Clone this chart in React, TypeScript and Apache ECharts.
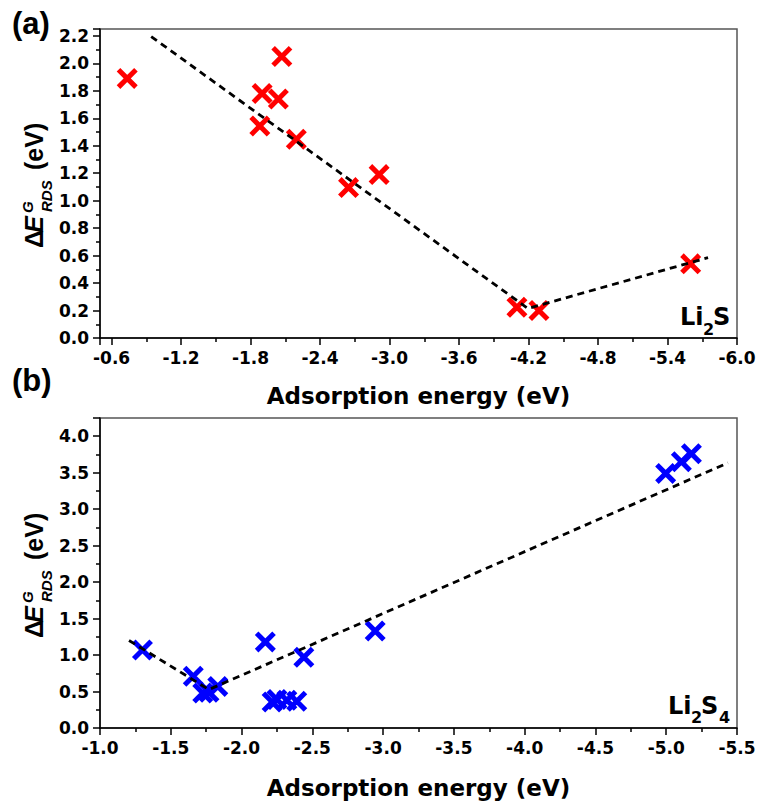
import React, { useEffect, useRef } from "react";
import * as echarts from "echarts";

// Panel (a): Li2S
const li2sAdsorption = [-0.735, -2.07, -1.9, -2.04, -1.88, -2.195, -2.646, -2.91, -4.1, -4.29, -5.6];
const li2sBarrier = [1.89, 2.05, 1.78, 1.74, 1.544, 1.447, 1.095, 1.19, 0.224, 0.2, 0.54];
const li2sFitX = [-0.942, -4.195, -5.75];
const li2sFitY = [2.195, 0.215, 0.585];

// Panel (b): Li2S4
const li2s4Adsorption = [-1.3, -1.659, -1.726, -1.77, -1.832, -2.168, -2.216, -2.25, -2.32, -2.39, -2.44, -2.944, -4.996, -5.107, -5.178];
const li2s4Barrier = [1.07, 0.71, 0.48, 0.49, 0.57, 1.18, 0.357, 0.39, 0.38, 0.366, 0.97, 1.33, 3.49, 3.65, 3.76];
const li2s4FitX = [-1.205, -1.769, -5.436];
const li2s4FitY = [1.2, 0.527, 3.635];

const xTitle = "Adsorption energy (eV)";

const CROSS = "path://M0,1.7L1.7,0L10,8.3L8.3,10Z M8.3,0L10,1.7L1.7,10L0,8.3Z";
const TICK_FONT = "DejaVu Sans";
const ROT_FONT = "Liberation Sans";

function pairs(xs: number[], ys: number[]) {
  return xs.map((x, i) => [x, ys[i]]);
}

function makeFormatter(min: number, step: number) {
  return (v: number) => {
    const k = (v - min) / step;
    if (Math.abs(k - Math.round(k)) > 1e-6) return "";
    return v.toFixed(1);
  };
}

function axisCommon(min: number, interval: number) {
  return {
    axisLine: { show: true, onZero: false, lineStyle: { color: "#000", width: 1.5 } },
    axisTick: { show: true, length: 7, lineStyle: { color: "#000", width: 1.5 } },
    minorTick: { show: true, splitNumber: 2, length: 4, lineStyle: { color: "#000", width: 1.5 } },
    splitLine: { show: false },
    minorSplitLine: { show: false },
    axisLabel: {
      margin: 11,
      color: "#000",
      fontFamily: TICK_FONT,
      fontWeight: "bold",
      fontSize: 17,
      formatter: makeFormatter(min, interval),
    },
  };
}

function xAxisCfg(gridIndex: number, min: number, max: number, interval: number) {
  return { gridIndex, type: "value", min, max, interval, inverse: true, ...axisCommon(min, interval) };
}

function yAxisCfg(gridIndex: number, min: number, max: number, interval: number) {
  return { gridIndex, type: "value", min, max, interval, ...axisCommon(min, interval) };
}

function t(
  text: string,
  x: number,
  y: number,
  size: number,
  family: string,
  italic = false,
  align = "left"
) {
  return {
    type: "text",
    x,
    y,
    style: {
      text,
      fontSize: size,
      fontFamily: family,
      fontWeight: "bold",
      fontStyle: italic ? "italic" : "normal",
      fill: "#000",
      align,
      verticalAlign: "middle",
      textAlign: align,
      textVerticalAlign: "middle",
    },
  };
}

function yTitle(y0: number) {
  return {
    type: "group",
    x: 0,
    y: y0,
    rotation: Math.PI / 2,
    children: [
      t("Δ", 0, 34, 25, ROT_FONT),
      t("E", 15.3, 34, 25, ROT_FONT, true),
      t("G", 35, 27.6, 15, ROT_FONT, true),
      t("RDS", 36, 46.6, 15, ROT_FONT, true),
      t("(eV)", 78, 34, 25, ROT_FONT),
    ],
  };
}

export default function App() {
  const ref = useRef<HTMLDivElement>(null);
  useEffect(() => {
    if (!ref.current) return;
    const chart = echarts.init(ref.current, undefined, { renderer: "svg" });
    const gridStyle = { show: true, borderColor: "#555", borderWidth: 1.5, backgroundColor: "transparent" };
    const option: any = {
      animation: false,
      backgroundColor: "#fff",
      grid: [
        { left: 100, top: 29, width: 637, height: 309, ...gridStyle },
        { left: 100, top: 418, width: 637, height: 310, ...gridStyle },
      ],
      xAxis: [xAxisCfg(0, -6.0, -0.5, 0.6), xAxisCfg(1, -5.5, -1.0, 0.5)],
      yAxis: [yAxisCfg(0, 0, 2.25, 0.2), yAxisCfg(1, 0, 4.25, 0.5)],
      series: [
        {
          type: "scatter",
          xAxisIndex: 0,
          yAxisIndex: 0,
          data: pairs(li2sAdsorption, li2sBarrier),
          symbol: CROSS,
          symbolSize: 21,
          itemStyle: { color: "#ff0000", opacity: 1 },
          z: 2,
        },
        {
          type: "line",
          xAxisIndex: 0,
          yAxisIndex: 0,
          data: pairs(li2sFitX, li2sFitY),
          showSymbol: false,
          symbol: "none",
          lineStyle: { color: "#000", width: 2.8, type: [7, 5] },
          z: 3,
        },
        {
          type: "scatter",
          xAxisIndex: 1,
          yAxisIndex: 1,
          data: pairs(li2s4Adsorption, li2s4Barrier),
          symbol: CROSS,
          symbolSize: 21,
          itemStyle: { color: "#0000ff", opacity: 1 },
          z: 2,
        },
        {
          type: "line",
          xAxisIndex: 1,
          yAxisIndex: 1,
          data: pairs(li2s4FitX, li2s4FitY),
          showSymbol: false,
          symbol: "none",
          lineStyle: { color: "#000", width: 2.8, type: [7, 5] },
          z: 3,
        },
      ],
      graphic: [
        t("(a)", 12, 23, 31, ROT_FONT),
        t("(b)", 12, 380, 31, ROT_FONT),
        t(xTitle, 418.5, 396, 23, TICK_FONT, false, "center"),
        t(xTitle, 418.5, 788, 23, TICK_FONT, false, "center"),
        yTitle(248),
        yTitle(638),
        t("Li", 680, 317, 24, TICK_FONT),
        t("2", 703, 329, 16, TICK_FONT),
        t("S", 713, 317, 24, TICK_FONT),
        t("Li", 668, 706, 24, TICK_FONT),
        t("2", 691, 717, 16, TICK_FONT),
        t("S", 701, 706, 24, TICK_FONT),
        t("4", 719, 717, 16, TICK_FONT),
      ],
    };
    chart.setOption(option);
    return () => chart.dispose();
  }, []);
  return (
    <div
      ref={ref}
      style={{ position: "absolute", left: 0, top: 0, width: 761, height: 807, background: "#fff" }}
    />
  );
}
